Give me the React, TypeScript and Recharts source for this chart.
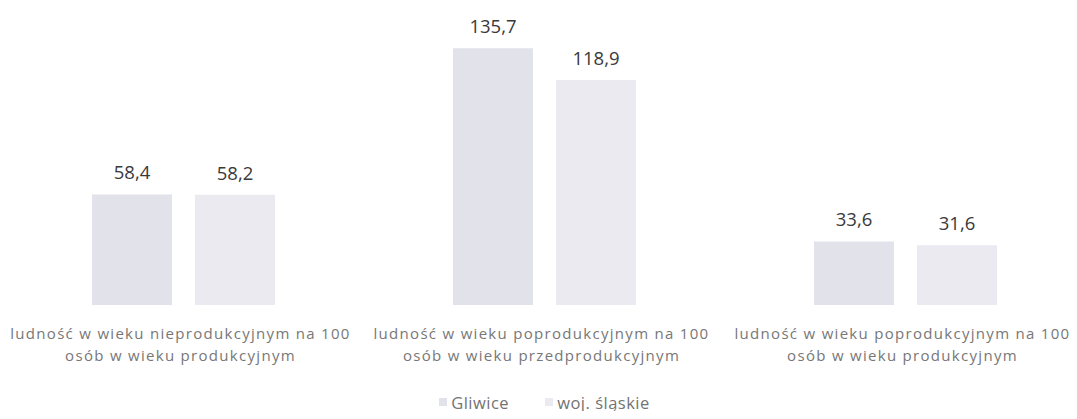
import React from "react";
import { BarChart, Bar, XAxis, YAxis, Legend, LabelList } from "recharts";

const categories = [
  "ludność w wieku nieprodukcyjnym na 100 osób w wieku produkcyjnym",
  "ludność w wieku poprodukcyjnym na 100 osób w wieku przedprodukcyjnym",
  "ludność w wieku poprodukcyjnym na 100 osób w wieku produkcyjnym",
];
const categoryLines = [
  ["ludność w wieku nieprodukcyjnym na 100", "osób w wieku produkcyjnym"],
  ["ludność w wieku poprodukcyjnym na 100", "osób w wieku przedprodukcyjnym"],
  ["ludność w wieku poprodukcyjnym na 100", "osób w wieku produkcyjnym"],
];
const gliwice = [58.4, 135.7, 33.6];
const slaskie = [58.2, 118.9, 31.6];
const seriesNames = ["Gliwice", "woj. śląskie"];
const colors = ["#e2e2eb", "#eaeaf0"];

const data = categories.map((c, i) => ({
  name: c,
  idx: i,
  g: gliwice[i],
  s: slaskie[i],
}));

const fmt = (v: any) => Number(v).toFixed(1).replace(".", ",");

const FONT = "'Open Sans', Lato, sans-serif";

const CatTick = (props: any) => {
  const { x, y, payload } = props;
  const lines = categoryLines[payload.index] || [payload.value];
  return (
    <g>
      {lines.map((l: string, i: number) => (
        <text
          key={i}
          x={x - 3}
          y={y + 26 + i * 22}
          textAnchor="middle"
          fill="#777"
          fontSize={15}
          letterSpacing={1.3}
          fontFamily={FONT}
        >
          {l}
        </text>
      ))}
    </g>
  );
};

const LegendContent = () => (
  <div
    style={{
      display: "flex",
      justifyContent: "center",
      alignItems: "center",
      fontFamily: FONT,
      fontSize: 16.5,
      letterSpacing: 0.5,
      color: "#737373",
      height: 34,
      paddingLeft: 0,
    }}
  >
    {seriesNames.map((n, i) => (
      <span
        key={n}
        style={{ display: "inline-flex", alignItems: "center", marginRight: i === 0 ? 36 : 0 }}
      >
        <span
          style={{
            display: "inline-block",
            width: 8,
            height: 8,
            background: colors[i],
            marginRight: 4,
          }}
        />
        {n}
      </span>
    ))}
  </div>
);

export default function App() {
  return (
    <div style={{ width: 1077, height: 419, overflow: "hidden", margin: -8, position: "relative" }}>
      <BarChart
        width={1090}
        height={419}
        data={data}
        margin={{ top: 40, right: 4, left: 3, bottom: 0 }}
        barGap={23}
      >
        <XAxis
          dataKey="name"
          axisLine={false}
          tickLine={false}
          interval={0}
          height={80}
          tick={<CatTick />}
        />
        <YAxis hide domain={[0, 140]} />
        <Legend verticalAlign="bottom" height={34} content={<LegendContent />} />
        <Bar dataKey="g" name={seriesNames[0]} fill={colors[0]} barSize={80} isAnimationActive={false}>
          <LabelList
            dataKey="g"
            position="top"
            offset={15}
            formatter={fmt}
            fill="#3a3a3a"
            fontSize={18.5}
            fontFamily={FONT}
          />
        </Bar>
        <Bar dataKey="s" name={seriesNames[1]} fill={colors[1]} barSize={80} isAnimationActive={false}>
          <LabelList
            dataKey="s"
            position="top"
            offset={15}
            formatter={fmt}
            fill="#3a3a3a"
            fontSize={18.5}
            fontFamily={FONT}
          />
        </Bar>
      </BarChart>
    </div>
  );
}
